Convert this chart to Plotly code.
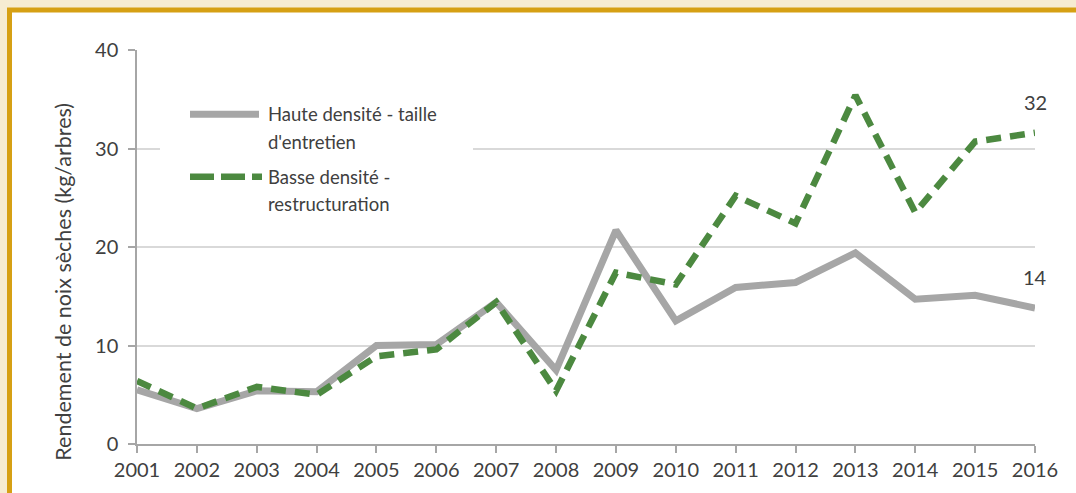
import plotly.graph_objects as go

years = list(range(2001, 2017))
haute = [5.5, 3.6, 5.4, 5.3, 10.0, 10.1, 14.4, 7.5, 21.7, 12.5, 15.9, 16.4, 19.4, 14.7, 15.1, 13.8]
basse = [6.4, 3.6, 5.8, 5.0, 8.9, 9.6, 14.4, 5.4, 17.4, 16.2, 25.2, 22.4, 35.4, 23.5, 30.7, 31.6]
series_names = ["Haute densité - taille<br>d'entretien", "Basse densité -<br>restructuration"]
end_labels = ["14", "32"]
y_ticks = [0, 10, 20, 30, 40]

grey = 'rgb(166, 166, 166)'
green = 'rgb(76, 137, 64)'
text_col = '#404040'
font = 'Lato'

W, H = 1076, 493
L, R, T, B = 137, 41, 50, 45
pw, ph = W - L - R, H - T - B


def px_x(px):
    return (px - L) / pw


def px_y(py):
    return (H - B - py) / ph


fig = go.Figure()
fig.add_trace(go.Scatter(x=years, y=haute, mode='lines', name=series_names[0],
                         line={'color': grey, 'width': 7}, showlegend=False))
fig.add_trace(go.Scatter(x=years, y=basse, mode='lines', name=series_names[1],
                         line={'color': green, 'width': 6.5, 'dash': '15px,9px'}, showlegend=False))

# outer frame
fig.add_shape(type='rect', xref='paper', yref='paper', layer='below',
              x0=px_x(9.5), x1=px_x(1110), y0=px_y(9.5), y1=px_y(530),
              line={'color': 'rgb(214, 160, 20)', 'width': 5}, fillcolor='white')

# legend box and samples
fig.add_shape(type='rect', xref='paper', yref='paper', layer='above',
              x0=px_x(160), x1=px_x(473), y0=px_y(85), y1=px_y(226),
              line={'width': 0}, fillcolor='white')
fig.add_shape(type='line', xref='paper', yref='paper',
              x0=px_x(190), x1=px_x(259), y0=px_y(115), y1=px_y(115),
              line={'color': grey, 'width': 7})
fig.add_shape(type='line', xref='paper', yref='paper',
              x0=px_x(190), x1=px_x(262), y0=px_y(178), y1=px_y(178),
              line={'color': green, 'width': 6.5, 'dash': '24px,7px'})
legend_lines = [(series_names[0].split('<br>'), 115), (series_names[1].split('<br>'), 178)]
for parts, yc in legend_lines:
    for i, part in enumerate(parts):
        fig.add_annotation(xref='paper', yref='paper', x=px_x(266), y=px_y(yc + 27.5 * i),
                           text=part, showarrow=False, xanchor='left', yanchor='middle',
                           font={'family': font, 'size': 18.5, 'color': text_col})

# end-of-series labels
for vals, lab in zip([haute, basse], end_labels):
    fig.add_annotation(x=years[-1], y=vals[-1], text=lab, showarrow=False, yshift=31,
                       font={'family': font, 'size': 20, 'color': text_col})

# y axis title
fig.add_annotation(xref='paper', yref='paper', x=px_x(48), y=px_y(284),
                   text='Rendement de noix sèches (kg/arbres)', textangle=-90, showarrow=False,
                   font={'family': font, 'size': 21.5, 'color': text_col})

fig.update_layout(width=W, height=H, margin={'l': L, 'r': R, 't': T, 'b': B},
                  paper_bgcolor='rgb(246, 236, 210)', plot_bgcolor='white',
                  font={'family': font, 'size': 20, 'color': text_col}, showlegend=False)
fig.update_xaxes(range=[2001, 2016], tickvals=years, showgrid=False, zeroline=False,
                 showline=True, linecolor='rgb(166, 166, 166)', linewidth=1.5,
                 ticks='outside', ticklen=7, tickcolor='rgb(166, 166, 166)', tickwidth=1.5)
fig.update_yaxes(range=[0, 40], tickvals=y_ticks, showgrid=True, gridcolor='rgb(217, 217, 217)',
                 gridwidth=1.5, zeroline=False, showline=True, linecolor='rgb(166, 166, 166)',
                 linewidth=1.5, ticks='outside', ticklen=7, tickcolor='rgb(166, 166, 166)',
                 tickwidth=1.5, ticklabelstandoff=6)

fig.write_html('out.html', config={'displayModeBar': False},
               post_script="document.body.style.margin='0';")
